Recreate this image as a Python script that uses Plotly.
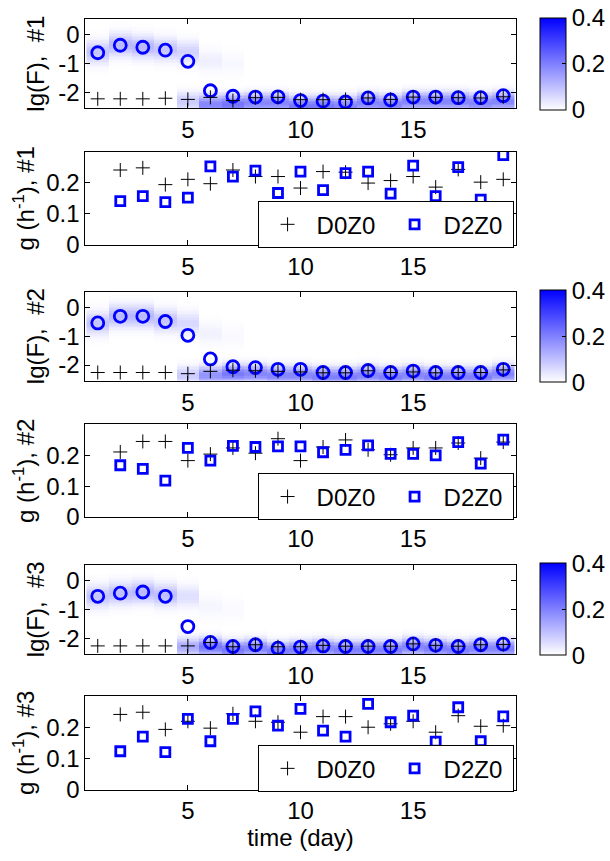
import numpy as np
import plotly.graph_objects as go

# ---------------- data ----------------
days = list(range(1, 20))
g_days = list(range(2, 20))

# lg(F) point estimates, three replicates
lgF_D2Z0 = {
    1: [-0.62, -0.36, -0.43, -0.53, -0.92, -1.94, -2.13, -2.16, -2.15, -2.28,
        -2.30, -2.33, -2.19, -2.26, -2.16, -2.16, -2.18, -2.18, -2.11],
    2: [-0.54, -0.31, -0.31, -0.49, -0.97, -1.79, -2.06, -2.09, -2.15, -2.15,
        -2.26, -2.26, -2.19, -2.26, -2.21, -2.26, -2.26, -2.26, -2.15],
    3: [-0.55, -0.44, -0.40, -0.55, -1.60, -2.15, -2.29, -2.23, -2.35, -2.31,
        -2.27, -2.29, -2.29, -2.29, -2.20, -2.25, -2.29, -2.23, -2.21],
}
lgF_D0Z0 = {
    1: [-2.22, -2.22, -2.22, -2.20, -2.24, -2.17, -2.28, -2.18, -2.17, -2.25,
        -2.25, -2.24, -2.19, -2.24, -2.16, -2.17, -2.18, -2.19, -2.15],
    2: [-2.26, -2.26, -2.26, -2.26, -2.30, -2.22, -2.18, -2.20, -2.22, -2.24,
        -2.27, -2.27, -2.20, -2.26, -2.24, -2.27, -2.26, -2.26, -2.17],
    3: [-2.27, -2.27, -2.27, -2.27, -2.27, -2.15, -2.30, -2.23, -2.30, -2.30,
        -2.25, -2.28, -2.28, -2.28, -2.20, -2.25, -2.28, -2.23, -2.22],
}

# growth rate g (1/h), days 2..19
g_D0Z0 = {
    1: [0.241, 0.248, 0.194, 0.211, 0.197, 0.241, 0.220, 0.220, 0.183, 0.236,
        0.234, 0.199, 0.207, 0.220, 0.186, 0.243, 0.202, 0.211],
    2: [0.211, 0.245, 0.245, 0.183, 0.204, 0.224, 0.207, 0.254, 0.183, 0.227,
        0.250, 0.218, 0.202, 0.224, 0.224, 0.240, 0.191, 0.243],
    3: [0.241, 0.248, 0.193, 0.219, 0.197, 0.243, 0.219, 0.216, 0.184, 0.234,
        0.234, 0.200, 0.211, 0.219, 0.184, 0.237, 0.203, 0.205],
}
g_D2Z0 = {
    1: [0.141, 0.157, 0.138, 0.152, 0.253, 0.220, 0.239, 0.167, 0.236, 0.176,
        0.231, 0.236, 0.165, 0.255, 0.157, 0.250, 0.146, 0.289],
    2: [0.168, 0.156, 0.118, 0.224, 0.183, 0.231, 0.227, 0.229, 0.229, 0.210,
        0.218, 0.232, 0.205, 0.205, 0.200, 0.243, 0.173, 0.251],
    3: [0.123, 0.170, 0.120, 0.227, 0.155, 0.227, 0.251, 0.205, 0.259, 0.189,
        0.170, 0.275, 0.216, 0.237, 0.154, 0.264, 0.155, 0.235],
}

# posterior density of lg(F) per day: an upper and a lower mode
upper_center = {
    1: [-0.60, -0.35, -0.42, -0.50, -0.60, -0.90, -1.00] + [0] * 12,
    2: [-0.55, -0.30, -0.30, -0.45, -0.55, -0.90, -1.00] + [0] * 12,
    3: [-0.55, -0.45, -0.40, -0.50, -0.55, -0.90, -1.00] + [0] * 12,
}
upper_peak = {
    1: [0.09, 0.11, 0.11, 0.09, 0.07, 0.025, 0.012] + [0] * 12,
    2: [0.09, 0.11, 0.11, 0.09, 0.06, 0.020, 0.010] + [0] * 12,
    3: [0.09, 0.10, 0.11, 0.10, 0.05, 0.015, 0.008] + [0] * 12,
}
lower_center = {
    1: [0, 0, 0, 0, -2.30, -2.40, -2.40, -2.35, -2.35, -2.45, -2.45, -2.45,
        -2.35, -2.40, -2.30, -2.30, -2.30, -2.35, -2.30],
    2: [0, 0, 0, 0, -2.35, -2.35, -2.30, -2.30, -2.35, -2.35, -2.40, -2.40,
        -2.35, -2.40, -2.35, -2.40, -2.40, -2.40, -2.30],
    3: [0, 0, 0, 0, -2.30, -2.30, -2.40, -2.35, -2.45, -2.40, -2.35, -2.40,
        -2.40, -2.40, -2.30, -2.35, -2.40, -2.35, -2.35],
}
lower_peak = {
    1: [0, 0, 0, 0, 0.08, 0.19, 0.22, 0.19, 0.19, 0.21, 0.21, 0.19,
        0.19, 0.19, 0.19, 0.19, 0.19, 0.19, 0.19],
    2: [0, 0, 0, 0, 0.08, 0.17, 0.21, 0.19, 0.19, 0.19, 0.20, 0.20,
        0.19, 0.20, 0.19, 0.20, 0.20, 0.20, 0.19],
    3: [0, 0, 0, 0, 0.13, 0.21, 0.21, 0.19, 0.20, 0.20, 0.19, 0.20,
        0.20, 0.20, 0.19, 0.20, 0.20, 0.19, 0.19],
}
upper_sigma = 0.26
lower_sigma = 0.21

lg_ticks = [0, -1, -2]
lg_ticktext = ["0", "-1", "-2"]
g_ticks = [0, 0.1, 0.2]
g_ticktext = ["0", "0.1", "0.2"]
x_ticks = [5, 10, 15]
cbar_ticks = [0, 0.2, 0.4]
cbar_ticktext = ["0", "0.2", "0.4"]

# ---------------- layout geometry ----------------
W, H = 610, 861
FONT = "Liberation Sans, Arial, Helvetica, sans-serif"
FS = 24
x_dom = [85.5 / W, 516.5 / W]
# pixel extents (top, bottom) of each panel
panel_px = [(19.3, 110.0), (154.0, 248.7), (296.0, 386.7),
            (431.0, 525.0), (573.3, 664.0), (706.7, 801.7)]
legend_px = [(258, 204.3), (258, 480.7), (258, 756.7)]


def ydom(top, bot):
    return [1 - bot / H, 1 - top / H]


y_grid = np.arange(-2.6, 0.61, 0.05)

fig = go.Figure()
scale = [[0, "rgb(255,255,255)"], [1, "rgb(0,0,255)"]]

for k in (1, 2, 3):
    ia = 2 * k - 1          # lg(F) axes index
    ib = 2 * k              # g axes index
    xa = "x" if ia == 1 else f"x{ia}"
    ya = "y" if ia == 1 else f"y{ia}"
    xb, yb = f"x{ib}", f"y{ib}"

    uc = np.array(upper_center[k])[None, :]
    up = np.array(upper_peak[k])[None, :]
    lc = np.array(lower_center[k])[None, :]
    lp = np.array(lower_peak[k])[None, :]
    yy = y_grid[:, None]
    z = (up * np.exp(-(yy - uc) ** 2 / (2 * upper_sigma ** 2))
         + lp * np.exp(-(yy - lc) ** 2 / (2 * lower_sigma ** 2)))

    top, bot = panel_px[ia - 1]
    fig.add_trace(go.Heatmap(
        x=days, y=y_grid, z=z, xaxis=xa, yaxis=ya,
        colorscale=scale, zmin=0, zmax=0.4, hoverinfo="skip",
        colorbar=dict(
            x=541 / W, xanchor="left", xpad=0, ypad=0,
            y=1 - (top + bot) / 2 / H, yanchor="middle",
            lenmode="pixels", len=bot - top + 1,
            thickness=26, outlinewidth=1, outlinecolor="black",
            tickvals=cbar_ticks, ticktext=cbar_ticktext,
            ticks="inside", ticklen=4, tickcolor="black",
            tickfont=dict(family=FONT, size=FS, color="black"),
        ),
    ))
    fig.add_trace(go.Scatter(
        x=days, y=lgF_D2Z0[k], xaxis=xa, yaxis=ya, mode="markers",
        showlegend=False, hoverinfo="skip",
        marker=dict(symbol="circle-open", size=12, color="rgb(0,0,255)",
                    line=dict(width=2.8, color="rgb(0,0,255)")),
    ))
    fig.add_trace(go.Scatter(
        x=days, y=lgF_D0Z0[k], xaxis=xa, yaxis=ya, mode="markers",
        showlegend=False, hoverinfo="skip",
        marker=dict(symbol="cross-thin-open", size=10, color="black",
                    line=dict(width=1, color="black")),
    ))

    leg = "legend" if k == 1 else f"legend{k}"
    fig.add_trace(go.Scatter(
        x=g_days, y=g_D0Z0[k], xaxis=xb, yaxis=yb, mode="markers",
        name="D0Z0", legend=leg,
        marker=dict(symbol="cross-thin-open", size=10, color="black",
                    line=dict(width=1, color="black")),
    ))
    fig.add_trace(go.Scatter(
        x=g_days, y=g_D2Z0[k], xaxis=xb, yaxis=yb, mode="markers",
        name="D2Z0", legend=leg,
        marker=dict(symbol="square-open", size=9, color="rgb(0,0,255)",
                    line=dict(width=2.8, color="rgb(0,0,255)")),
    ))

axis_common = dict(
    showline=True, linecolor="black", linewidth=1, mirror="allticks",
    ticks="inside", ticklen=5, tickcolor="black", showgrid=False,
    zeroline=False, tickfont=dict(family=FONT, size=FS, color="black"),
)

layout = dict(
    width=W, height=H, margin=dict(l=0, r=0, t=0, b=0),
    paper_bgcolor="white", plot_bgcolor="white",
    font=dict(family=FONT, size=FS, color="black"),
)

for i in range(1, 7):
    top, bot = panel_px[i - 1]
    xname = "xaxis" if i == 1 else f"xaxis{i}"
    yname = "yaxis" if i == 1 else f"yaxis{i}"
    xa = dict(axis_common, domain=x_dom, range=[0.45, 19.55],
              tickvals=x_ticks, ticktext=[str(t) for t in x_ticks],
              anchor="y" if i == 1 else f"y{i}")
    if i == 6:
        xa["title"] = dict(text="time (day)", standoff=0,
                           font=dict(family=FONT, size=FS))
    rep = (i + 1) // 2
    if i % 2 == 1:
        ya = dict(axis_common, domain=ydom(top, bot), range=[-2.55, 0.55],
                  tickvals=lg_ticks, ticktext=lg_ticktext,
                  title=dict(text=f"lg(F),  #{rep}", standoff=6,
                             font=dict(family=FONT, size=FS)))
    else:
        ya = dict(axis_common, domain=ydom(top, bot), range=[0, 0.3],
                  tickvals=g_ticks, ticktext=g_ticktext,
                  title=dict(text=f"g (h<sup>-1</sup>), #{rep}", standoff=4,
                             font=dict(family=FONT, size=FS)))
    ya["anchor"] = "x" if i == 1 else f"x{i}"
    layout[xname] = xa
    layout[yname] = ya

for j, (lx, ly) in enumerate(legend_px):
    name = "legend" if j == 0 else f"legend{j + 1}"
    layout[name] = dict(
        orientation="h", x=lx / W, xanchor="left", y=1 - ly / H,
        yanchor="top", bgcolor="white", bordercolor="black", borderwidth=1,
        font=dict(family=FONT, size=FS, color="black"),
        itemwidth=48, entrywidth=64, entrywidthmode="pixels",
        itemclick=False,
    )

fig.update_layout(**layout)
fig.write_html("out.html")
